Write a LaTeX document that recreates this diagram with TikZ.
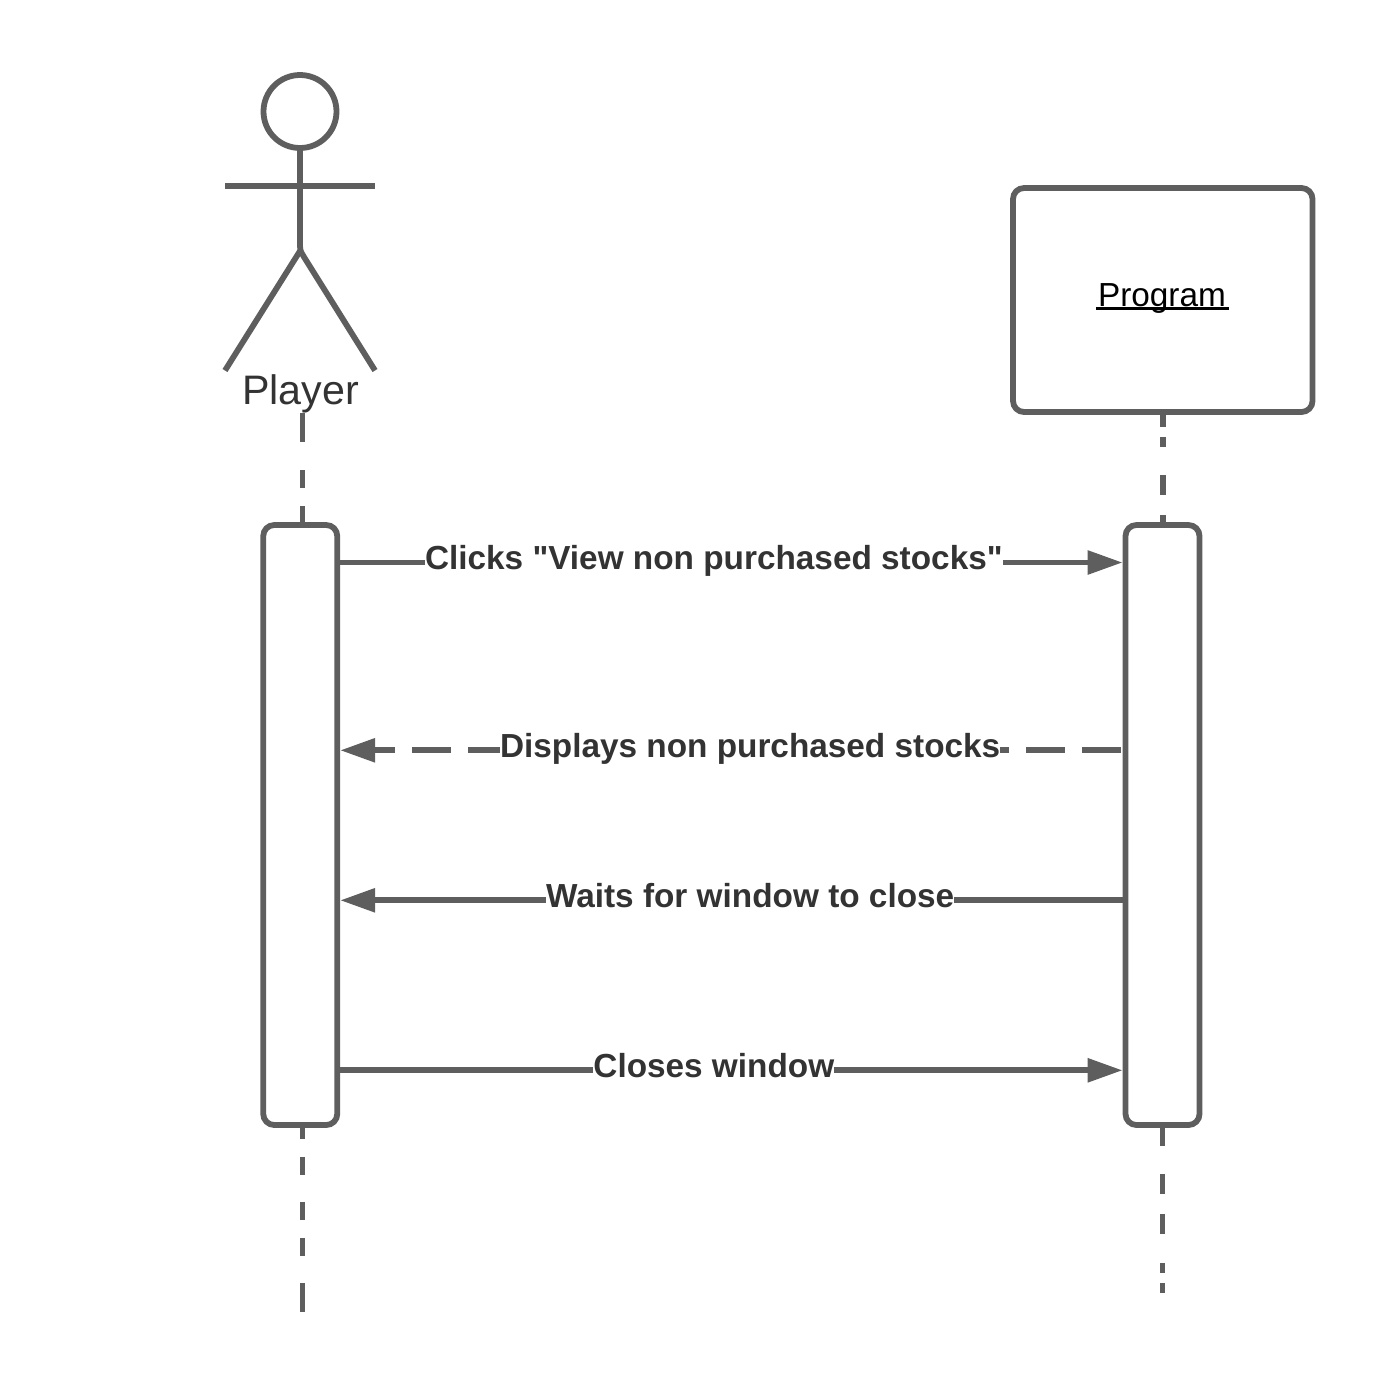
\documentclass[tikz,border=0pt]{standalone}
\usepackage{fontspec}
\setmainfont{Liberation Sans}[Ligatures=TeXOff]
\usetikzlibrary{arrows.meta,calc}
\definecolor{stk}{HTML}{5E5E5E}
\definecolor{txt}{HTML}{333333}
\tikzset{
  stk/.style={draw=stk,line width=2.9pt},
  activation/.style={stk,rounded corners=5.5pt,fill=white,minimum width=37pt,minimum height=300pt,inner sep=0pt},
  objbox/.style={stk,rounded corners=5.5pt,fill=white,minimum width=149.75pt,minimum height=112pt,inner sep=0pt,text=black,font=\fontsize{16.67pt}{20pt}\selectfont,text height=6pt,text depth=0pt},
  lifeline/.style={stk},
  msg/.style={stk,-{Triangle[length=17.5pt,width=11.5pt]}},
  retmsg/.style={msg,dash pattern=on 19.5pt off 8.4pt,dash phase=26.9pt},
  msglabel/.style={anchor=base,yshift=-3.4pt,fill=white,inner sep=0pt,text=txt,font=\fontsize{16.67pt}{20pt}\selectfont\bfseries},
  actorname/.style={anchor=base,inner sep=0pt,text=txt,font=\fontsize{20.6pt}{24pt}\selectfont}
}
\begin{document}
\begin{tikzpicture}[x=.5pt,y=-.5pt]
\useasboundingbox (0,0) rectangle (1388,1388);
% objects
\node[objbox] (program) at (1162.75,300) {\hspace{-.8pt}\rlap{\hspace{-1pt}\raisebox{-1.85pt}{\rule{66.3pt}{1.3pt}}}Program};
\node[activation] (actA) at (300.25,825) {};
\node[activation] (actB) at (1162.5,825) {};
% actor
\node[stk,circle,minimum size=36.5pt,inner sep=0pt] (head) at (300,111.5) {};
\coordinate (hip) at (300,246);
\coordinate (apex) at (300,251);
\coordinate (armL) at (225,186);
\coordinate (armR) at (375,186);
\coordinate (footL) at (225,370.5);
\coordinate (footR) at (375,370.5);
\draw[stk] (armL) -- (armR);
\draw[stk] (head.south) -- (hip) .. controls (300,251) and (302,254) .. (304,257) -- (footR);
\draw[stk] (apex) -- (footL);
\node[actorname] (player) at (300.5,404.5) {Player};
% lifelines
\coordinate (pTop) at (302.5,413);
\coordinate (pBot) at (302.5,1312);
\coordinate (bBot) at (1162.5,1293);
\draw[lifeline,dash pattern=on 14.5pt off 14pt on 9pt off 9pt on 20pt off 20pt] (pTop) -- (pTop |- actA.north);
\draw[lifeline,dash pattern=on 5.5pt off 9pt on 9pt off 13.5pt on 9pt off 9pt on 9pt off 13.5pt on 20pt off 20pt] (pTop |- actA.south) -- (pBot);
\draw[lifeline,dash pattern=on 6pt off 5pt on 5pt off 14pt on 10pt off 10pt on 20pt off 20pt] (program.south) -- (program.south |- actB.north);
\draw[lifeline,dash pattern=on 9pt off 14pt on 10pt off 10pt on 10pt off 14.5pt on 5pt off 5pt on 20pt off 20pt] (actB.south) -- (bBot);
% messages
\coordinate (m1) at (0,562.5);
\coordinate (m2) at (0,750.3);
\coordinate (m3) at (0,900.3);
\coordinate (m4) at (0,1070.3);
\draw[msg] (actA.east |- m1) -- node[msglabel,pos=.4776] (l1) {Clicks "View non purchased stocks"} (actB.west |- m1);
\draw[retmsg] (actB.west |- m2) -- node[msglabel,pos=.476] (l2) {Displays non purchased stocks} (actA.east |- m2);
\draw[msg] (actB.west |- m3) -- node[msglabel,pos=.476] (l3) {Waits for window to close} (actA.east |- m3);
\draw[msg] (actA.east |- m4) -- node[msglabel,pos=.4776] (l4) {Closes window} (actB.west |- m4);
\end{tikzpicture}
\end{document}
